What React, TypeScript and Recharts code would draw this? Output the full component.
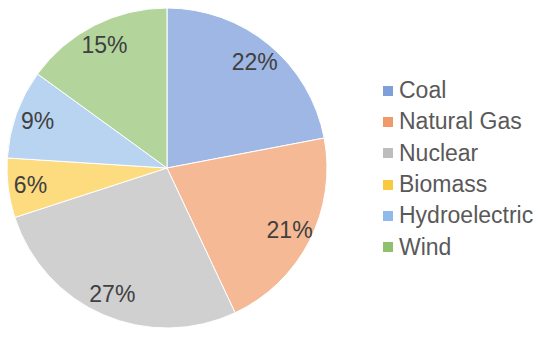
import React from 'react';
import { PieChart, Pie, Cell, Legend } from 'recharts';

const sources = ['Coal', 'Natural Gas', 'Nuclear', 'Biomass', 'Hydroelectric', 'Wind'];
const shares = [22, 21, 27, 6, 9, 15];
const colors = ['#9fb7e4', '#f6b995', '#d0d0d0', '#fddb7f', '#b8d4f1', '#b3d59c'];
const swatchColors = ['#7f9fd9', '#f09a6c', '#bdbdbd', '#f9c93f', '#8fbbea', '#8fc06e'];

const data = sources.map((name, i) => ({ name, value: shares[i] }));

const RADIAN = Math.PI / 180;

const renderLabel = (props: any) => {
  const { cx, cy, midAngle, outerRadius, value } = props;
  const r = outerRadius * 0.86;
  const x = cx + r * Math.cos(-midAngle * RADIAN);
  const y = cy + r * Math.sin(-midAngle * RADIAN);
  return (
    <text x={x} y={y} fill="#404040" fontSize={23} textAnchor="middle" dominantBaseline="central">
      {value}%
    </text>
  );
};

const renderLegend = () => (
  <div>
    {sources.map((name, i) => (
      <div key={name} style={{ display: 'flex', alignItems: 'center', height: 31.3 }}>
        <div style={{ width: 10, height: 10, background: swatchColors[i], marginRight: 6 }} />
        <span style={{ fontSize: 23, color: '#595959' }}>{name}</span>
      </div>
    ))}
  </div>
);

export default function App() {
  return (
    <div style={{ position: 'absolute', left: 0, top: 0, fontFamily: '"Liberation Sans", Arial, sans-serif' }}>
      <PieChart width={550} height={337} margin={{ top: 0, right: 0, bottom: 0, left: 0 }}>
        <Pie
          data={data}
          dataKey="value"
          nameKey="name"
          cx={167}
          cy={168}
          outerRadius={160}
          startAngle={90}
          endAngle={-270}
          stroke="#ffffff"
          strokeWidth={1}
          label={renderLabel}
          labelLine={false}
          isAnimationActive={false}
        >
          {data.map((d, i) => (
            <Cell key={d.name} fill={colors[i]} />
          ))}
        </Pie>
        <Legend
          content={renderLegend}
          wrapperStyle={{ position: 'absolute', left: 383, top: 75, width: 170 }}
        />
      </PieChart>
    </div>
  );
}
